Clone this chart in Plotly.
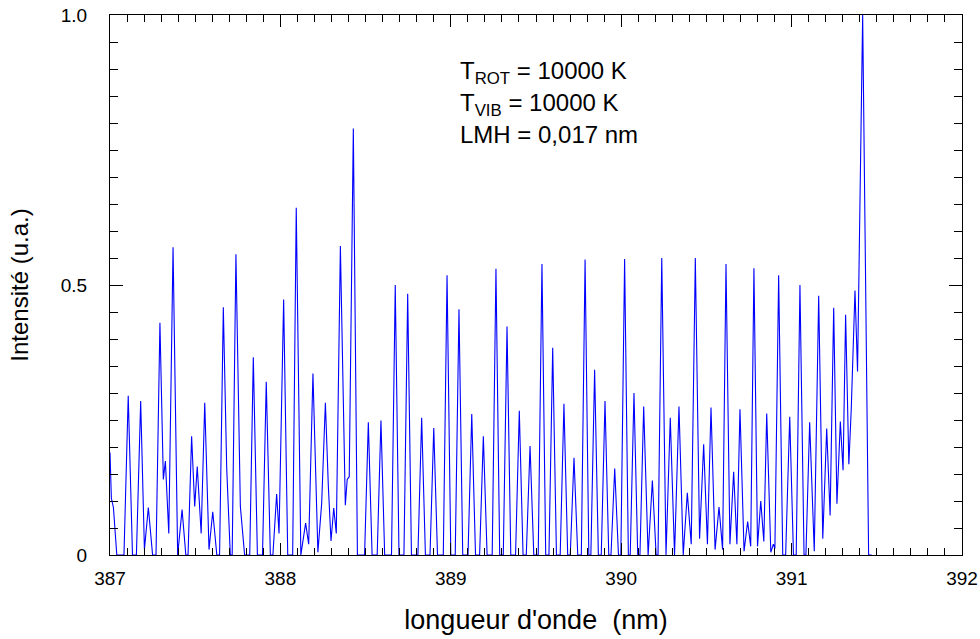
import plotly.graph_objects as go

# spectrum: line apexes and the minima / feet between them
peak_wl = [
    387.107, 387.180, 387.225, 387.293, 387.325, 387.370, 387.423, 387.479,
    387.512, 387.556, 387.603, 387.665, 387.739, 387.841, 387.917, 387.978,
    388.019, 388.093, 388.148, 388.191, 388.264, 388.313, 388.352, 388.428,
    388.516, 388.590, 388.674, 388.747, 388.829, 388.900, 388.978, 389.048,
    389.123, 389.191, 389.265, 389.330, 389.402, 389.465, 389.535, 389.598,
    389.664, 389.723, 389.788, 389.844, 389.905, 389.962, 390.020, 390.075,
    390.132, 390.183, 390.238, 390.288, 390.339, 390.388, 390.435, 390.484,
    390.527, 390.574, 390.615, 390.660, 390.697, 390.742, 390.779, 390.819,
    390.854, 390.924, 390.989, 391.049, 391.106, 391.159, 391.206, 391.247,
    391.286, 391.317, 391.372, 391.417,
]
peak_int = [
    0.295, 0.285, 0.088, 0.430, 0.174, 0.570, 0.084, 0.220,
    0.164, 0.282, 0.080, 0.459, 0.557, 0.366, 0.321, 0.113,
    0.473, 0.643, 0.059, 0.336, 0.282, 0.087, 0.572, 0.790,
    0.246, 0.249, 0.500, 0.484, 0.254, 0.235, 0.518, 0.455,
    0.261, 0.220, 0.530, 0.423, 0.267, 0.202, 0.539, 0.384,
    0.280, 0.180, 0.547, 0.343, 0.285, 0.160, 0.548, 0.300,
    0.275, 0.138, 0.550, 0.254, 0.275, 0.115, 0.550, 0.205,
    0.273, 0.089, 0.539, 0.154, 0.270, 0.062, 0.531, 0.100,
    0.262, 0.518, 0.256, 0.500, 0.246, 0.480, 0.234, 0.458,
    0.247, 0.445, 0.490, 1.000,
]
valley_wl = [
    387.000, 387.008, 387.020, 387.040, 387.082, 387.132, 387.155, 387.202,
    387.250, 387.270, 387.313, 387.345, 387.397, 387.445, 387.458, 387.497,
    387.535, 387.581, 387.627, 387.643, 387.685, 387.706, 387.717, 387.765,
    387.790, 387.820, 387.865, 387.895, 387.941, 387.956, 387.992, 388.043,
    388.072, 388.120, 388.166, 388.220, 388.242, 388.281, 388.297, 388.328,
    388.381, 388.392, 388.404, 388.452, 388.494, 388.538, 388.568, 388.612,
    388.652, 388.696, 388.725, 388.769, 388.807, 388.851, 388.878, 388.922,
    388.956, 389.000, 389.026, 389.070, 389.101, 389.145, 389.169, 389.213,
    389.243, 389.287, 389.308, 389.352, 389.380, 389.424, 389.443, 389.487,
    389.513, 389.557, 389.576, 389.620, 389.642, 389.686, 389.701, 389.745,
    389.766, 389.810, 389.822, 389.866, 389.883, 389.927, 389.940, 389.984,
    389.998, 390.042, 390.053, 390.097, 390.110, 390.158, 390.205, 390.216,
    390.263, 390.313, 390.364, 390.411, 390.460, 390.506, 390.551, 390.595,
    390.638, 390.679, 390.721, 390.760, 390.800, 390.837, 390.878, 390.893,
    390.902, 390.948, 390.965, 391.011, 391.027, 391.073, 391.084, 391.133,
    391.183, 391.226, 391.266, 391.302, 391.336, 391.350, 391.387, 391.452,
    391.470,
]
valley_int = [
    0.190, 0.105, 0.088, 0.000, 0.000, 0.000, 0.000, 0.010,
    0.000, 0.000, 0.140, 0.040, 0.000, 0.000, 0.000, 0.090,
    0.040, 0.010, 0.000, 0.000, 0.160, 0.000, 0.000, 0.090,
    0.000, 0.000, 0.000, 0.000, 0.000, 0.000, 0.040, 0.000,
    0.000, 0.000, 0.020, 0.005, 0.095, 0.130, 0.026, 0.040,
    0.092, 0.140, 0.145, 0.000, 0.000, 0.000, 0.000, 0.000,
    0.000, 0.000, 0.000, 0.000, 0.000, 0.000, 0.000, 0.000,
    0.000, 0.000, 0.000, 0.000, 0.000, 0.000, 0.000, 0.000,
    0.000, 0.000, 0.000, 0.000, 0.000, 0.000, 0.000, 0.000,
    0.000, 0.000, 0.000, 0.000, 0.000, 0.000, 0.000, 0.000,
    0.000, 0.000, 0.000, 0.000, 0.000, 0.000, 0.000, 0.000,
    0.000, 0.000, 0.000, 0.000, 0.000, 0.000, 0.000, 0.000,
    0.000, 0.000, 0.000, 0.020, 0.030, 0.020, 0.010, 0.010,
    0.020, 0.020, 0.007, 0.016, 0.016, 0.025, 0.005, 0.020,
    0.012, 0.000, 0.000, 0.000, 0.000, 0.000, 0.000, 0.007,
    0.030, 0.073, 0.095, 0.157, 0.168, 0.270, 0.340, 0.000,
    0.000,
]

x_ticks = [387, 388, 389, 390, 391, 392]
y_ticks = [0, 0.5, 1.0]
y_ticktext = ["0", "0.5", "1.0"]

params = [
    "T<sub>ROT</sub> = 10000 K",
    "T<sub>VIB</sub> = 10000 K",
    "LMH = 0,017 nm",
]
params_y = [0.893, 0.835, 0.778]

# merge apexes and minima into one polyline ordered by wavelength
pts = sorted(zip(peak_wl + valley_wl, peak_int + valley_int))
wl = [p[0] for p in pts]
inten = [p[1] for p in pts]

FONT = "Liberation Sans, Arial, sans-serif"

fig = go.Figure()
fig.add_trace(go.Scatter(
    x=wl, y=inten, mode="lines",
    line=dict(color="#0000ff", width=1.1),
    showlegend=False, hoverinfo="skip",
))

axis_common = dict(
    showline=True, linecolor="black", linewidth=1, mirror="ticks",
    ticks="inside", tickcolor="black", tickwidth=1,
    showgrid=False, zeroline=False, automargin=False,
)

fig.update_xaxes(
    range=[387, 392], tickvals=x_ticks, ticklen=12,
    minor=dict(dtick=0.1, ticks="inside", ticklen=7, tickcolor="black", showgrid=False),
    tickfont=dict(family=FONT, size=19, color="black"),
    ticklabelstandoff=6,
    title=dict(text="longueur d'onde  (nm)", standoff=22,
               font=dict(family=FONT, size=27, color="black")),
    **axis_common,
)
fig.update_yaxes(
    range=[0, 1], tickvals=y_ticks, ticktext=y_ticktext, ticklen=13,
    minor=dict(dtick=0.05, ticks="inside", ticklen=8, tickcolor="black", showgrid=False),
    tickfont=dict(family=FONT, size=19, color="black"),
    ticklabelstandoff=18,
    title=dict(text="Intensité (u.a.)", standoff=25,
               font=dict(family=FONT, size=24, color="black")),
    **axis_common,
)

for txt, yv in zip(params, params_y):
    fig.add_annotation(
        x=389.04, y=yv, xref="x", yref="y",
        text=txt, showarrow=False, xanchor="left", yanchor="middle",
        font=dict(family=FONT, size=24, color="black"),
    )

fig.update_layout(
    width=980, height=639,
    margin=dict(l=110, r=18, t=15, b=84),
    paper_bgcolor="white", plot_bgcolor="white",
)

# drop the default 8px page margin so the figure fills the window
fig.write_html(
    "out.html",
    config={"displayModeBar": False},
    post_script="document.body.style.margin = '0';",
)
